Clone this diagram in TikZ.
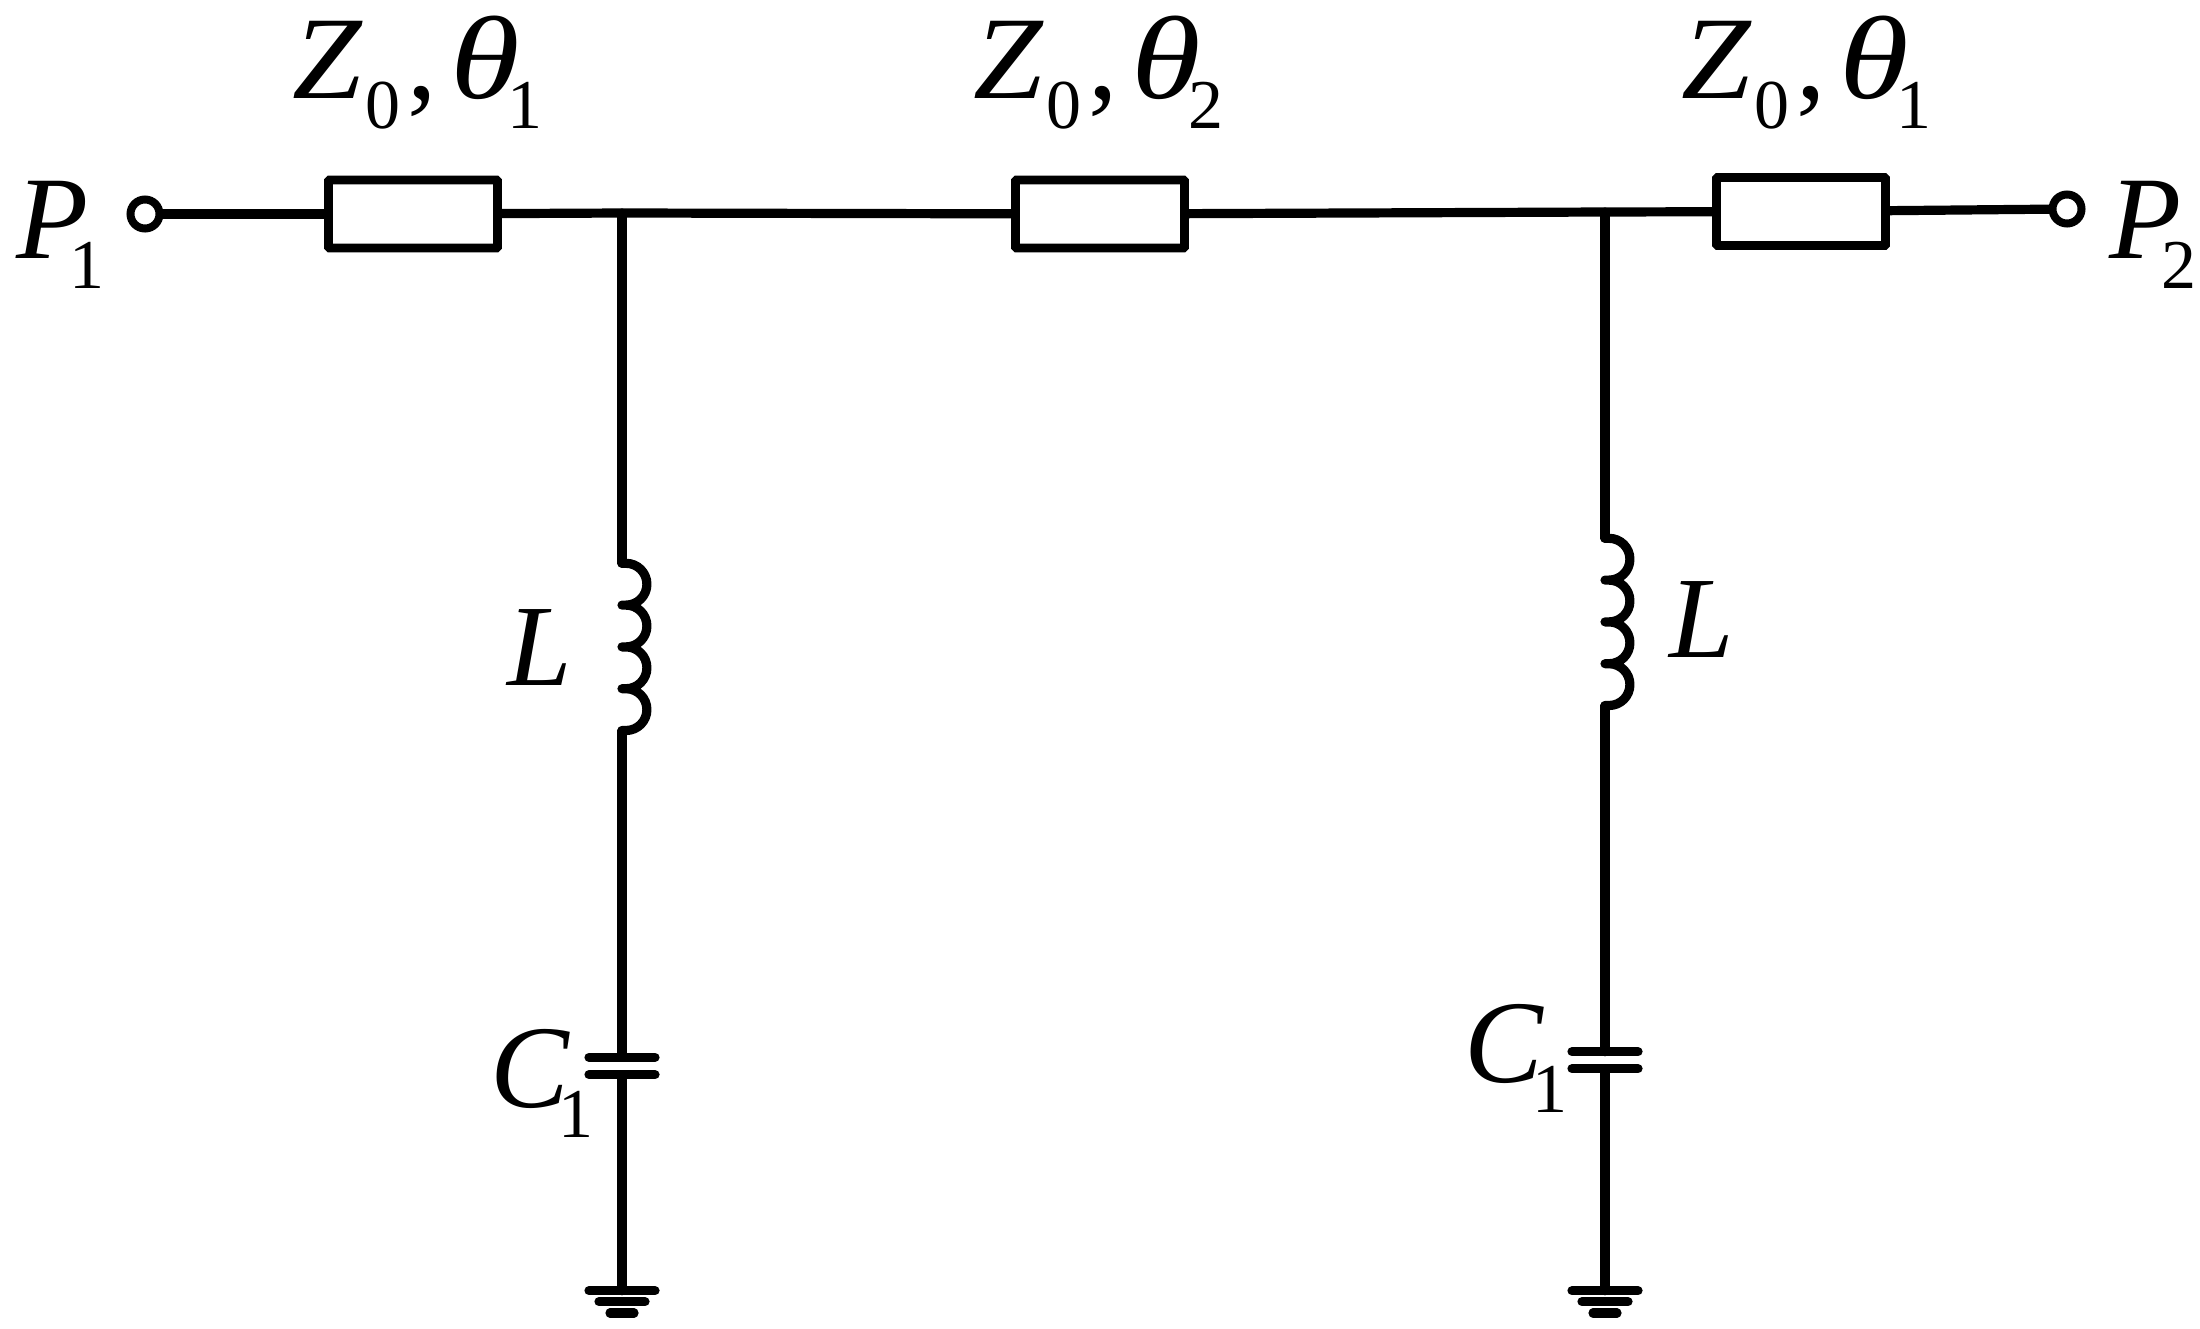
\documentclass[tikz,border=0pt]{standalone}
\usepackage{graphicx}
\usepackage{fontspec}
\setmainfont{Liberation Serif}
\newcommand{\bigit}{\fontsize{59}{60}\selectfont\itshape}
\newcommand{\midit}{\fontsize{58}{60}\selectfont\itshape}
\newcommand{\subrm}[1]{\raisebox{-15pt}{\fontsize{35}{36}\selectfont\upshape #1}}
\newcommand{\ztlabel}[1]{\scalebox{1.06}[1]{\bigit Z}\kern2.1pt\subrm{0}\kern3.5pt{\fontsize{59}{60}\selectfont\upshape ,}\kern6.7pt\scalebox{1.2}[1]{\bigit\char"03B8}\kern-6.5pt\subrm{#1}}
\begin{document}
\begin{tikzpicture}[x=0.5pt,y=-0.5pt,
  wire/.style={line width=4.6pt,line cap=round,line join=round,black},
  tline/.style={draw=black,line width=4.4pt,rectangle,fill=white,minimum width=84.5pt,minimum height=34pt,inner sep=0pt,outer sep=0pt,rounded corners=0.5pt},
  portdot/.style={draw=black,line width=4pt,circle,fill=white,minimum size=14.5pt,inner sep=0pt,outer sep=0pt},
  lab/.style={anchor=base west,inner sep=0pt,outer sep=0pt,text=black}]
\useasboundingbox[fill=white] (0,0) rectangle (2200,1328);
% junctions and component ends
\coordinate (J1) at (622,213);
\coordinate (J2) at (1605,212);
\coordinate (LA1) at (622,563.3);
\coordinate (LB1) at (622,730.7);
\coordinate (LA2) at (1605,538.3);
\coordinate (LB2) at (1605,705.7);
\coordinate (CA1) at (622,1057.3);
\coordinate (CB1) at (622,1074.7);
\coordinate (CA2) at (1605,1051.7);
\coordinate (CB2) at (1605,1068.7);
\coordinate (G1) at (622,1290.7);
\coordinate (G2) at (1605,1290.7);
% horizontal line
\node[tline] (B1) at (413,214) {};
\node[tline] (B2) at (1100,214) {};
\node[tline] (B3) at (1801,211.5) {};
\node[portdot] (P1) at (145,214) {};
\node[portdot] (P2) at (2067,209) {};
\draw[wire,line cap=butt] (P1) -- (B1);
\draw[wire,line cap=butt] (B1) -- (J1) -- (B2);
\draw[wire,line cap=butt] (B2) -- (J2) -- (B3);
\draw[wire,line cap=butt] (B3) -- (P2);
% shunt branches
\foreach \j/\a/\b/\c/\d/\g in {J1/LA1/LB1/CA1/CB1/G1,J2/LA2/LB2/CA2/CB2/G2}{
  \draw[wire] (\j) -- (\a);
  \draw[wire] (\a) -- ++(4,0) arc[start angle=90,end angle=-90,radius=10.45pt]
     -- ++(-4,0) -- ++(4,0) arc[start angle=90,end angle=-90,radius=10.45pt]
     -- ++(-4,0) -- ++(4,0) arc[start angle=90,end angle=-90,radius=10.45pt]
     -- ++(-4,0) -- ++(4,0) arc[start angle=90,end angle=-90,radius=10.45pt]
     -- ++(-4,0);
  \draw[wire] (\b) -- (\c);
  \draw[wire] (\c) ++(-33,0) -- ++(66,0);
  \draw[wire] (\d) ++(-33,0) -- ++(66,0);
  \draw[wire] (\d) -- (\g);
  \draw[wire] (\g) ++(-33,0) -- ++(66,0);
  \draw[wire] (\g) ++(-23,11) -- ++(46,0);
  \draw[wire] (\g) ++(-12,22.3) -- ++(24,0);
}
% labels
\node[lab] (T1) at (292,98) {\ztlabel{1}};
\node[lab] (T2) at (973,98) {\ztlabel{2}};
\node[lab] (T3) at (1681,98) {\ztlabel{1}};
\node[lab] (PL1) at (17,258) {{\bigit P}\kern-10pt\subrm{1}};
\node[lab] (PL2) at (2109,258) {{\bigit P}\kern-10pt\subrm{2}};
\node[lab] (L1) at (507,685) {\midit L};
\node[lab] (L2) at (1669,657) {\midit L};
\node[lab] (C1) at (490,1107) {{\bigit C}\kern-5pt\subrm{1}};
\node[lab] (C2) at (1464,1082) {{\bigit C}\kern-5pt\subrm{1}};
\end{tikzpicture}
\end{document}
